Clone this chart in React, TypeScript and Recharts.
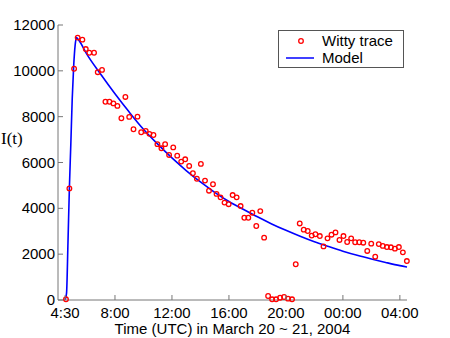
import { ComposedChart, Line, Scatter, XAxis, YAxis } from "recharts"

// hours since 0:00 on March 20 (24+ = March 21)
const wittyHours = [
  4.56, 4.8, 5.13, 5.38, 5.71, 5.95, 6.2, 6.53, 6.79, 7.09, 7.33, 7.61, 7.89, 8.17, 8.45, 8.73,
  9.0, 9.3, 9.58, 9.84, 10.16, 10.42, 10.7, 10.98, 11.26, 11.52, 11.8, 12.09, 12.37, 12.65,
  12.93, 13.21, 13.47, 13.75, 14.03, 14.32, 14.6, 14.88, 15.13, 15.41, 15.69, 15.98, 16.26,
  16.54, 16.82, 17.08, 17.36, 17.64, 17.92, 18.2, 18.47, 18.75, 19.03, 19.31, 19.59, 19.87,
  20.15, 20.43, 20.69, 20.97, 21.25, 21.53, 21.81, 22.07, 22.38, 22.64, 22.92, 23.2, 23.48,
  23.76, 24.04, 24.3, 24.58, 24.86, 25.15, 25.43, 25.71, 25.99, 26.27, 26.52, 26.8, 27.09,
  27.37, 27.65, 27.93, 28.21, 28.49,
]
const wittyValues = [
  30, 4870, 10090, 11450, 11360, 10950, 10790, 10790, 9940, 10040, 8650, 8650, 8580, 8470, 7930,
  8860, 7990, 7450, 8000, 7320, 7380, 7250, 7200, 6800, 6620, 6800, 6330, 6660, 6300, 6040,
  6140, 5850, 5530, 5290, 5940, 5210, 4770, 5050, 4630, 4480, 4250, 4180, 4580, 4480, 4100,
  3590, 3590, 3810, 3230, 3880, 2720, 175, 30, 30, 100, 130, 60, 30, 1560, 3340, 3070, 3010,
  2810, 2870, 2790, 2340, 2690, 2850, 2950, 2620, 2790, 2530, 2690, 2520, 2520, 2500, 2140,
  2460, 1890, 2440, 2360, 2310, 2300, 2240, 2310, 2080, 1700,
]

const modelHours = [
  4.5, 4.6, 4.7, 4.8, 4.9, 5.0, 5.1, 5.2, 5.3, 5.5, 6, 7, 8, 9, 10, 11, 12, 13, 14, 15, 16, 17,
  18, 19, 20, 21, 22, 23, 24, 25, 26, 27, 28, 28.5,
]
const modelValues = [
  0, 300, 2500, 4900, 6800, 8800, 10200, 11100, 11450, 11300, 10750, 9850, 9000, 8200, 7450,
  6800, 6200, 5650, 5150, 4700, 4300, 3960, 3630, 3320, 3040, 2780, 2540, 2330, 2130, 1950,
  1790, 1640, 1500, 1440,
]

const xTicks = [4.5, 8, 12, 16, 20, 24, 28]
const xTickLabels = ["4:30", "8:00", "12:00", "16:00", "20:00", "00:00", "04:00"]
const yTicks = [0, 2000, 4000, 6000, 8000, 10000, 12000]

const wittyData = wittyHours.map((h, i) => ({ h, v: wittyValues[i] }))
const modelData = modelHours.map((h, i) => ({ h, v: modelValues[i] }))

const FONT = "Arial, 'Liberation Sans', sans-serif"
const AXIS = "#777777"

const BottomTick = (props: any) => {
  const { x, y, payload } = props
  const idx = xTicks.indexOf(payload.value)
  return (
    <g>
      <line x1={x} x2={x} y1={y - 4} y2={y - 9} stroke={AXIS} />
      <text x={x} y={y + 14} textAnchor="middle" fontSize={15} fontFamily={FONT} fill="#000">
        {xTickLabels[idx]}
      </text>
    </g>
  )
}

const LeftTick = (props: any) => {
  const { x, y, payload } = props
  return (
    <g>
      <line x1={x + 3} x2={x + 8} y1={y} y2={y} stroke={AXIS} />
      <text x={x} y={y + 5} textAnchor="end" fontSize={15} fontFamily={FONT} fill="#000">
        {payload.value}
      </text>
    </g>
  )
}

const TopTick = (props: any) => {
  const { x, y } = props
  return <line x1={x} x2={x} y1={y} y2={y + 5} stroke={AXIS} />
}

const RightTick = (props: any) => {
  const { x, y } = props
  return <line x1={x} x2={x - 5} y1={y} y2={y} stroke={AXIS} />
}

const LegendBox = () => (
  <div
    style={{
      position: "absolute",
      left: 278,
      top: 30,
      width: 124,
      height: 36,
      border: "1px solid #555",
      background: "#fff",
      fontFamily: FONT,
      fontSize: 15,
      color: "#000",
    }}
  >
    <svg width={40} height={36} style={{ position: "absolute", left: 0, top: 0 }}>
      <circle cx={22} cy={10} r={2.3} fill="none" stroke="#ff0000" strokeWidth={1.3} />
      <line x1={7} x2={35} y1={27} y2={27} stroke="#0000ff" strokeWidth={1.5} />
    </svg>
    <div style={{ position: "absolute", left: 43, top: 1, lineHeight: "17px" }}>Witty trace</div>
    <div style={{ position: "absolute", left: 43, top: 18, lineHeight: "17px" }}>Model</div>
  </div>
)

export default function App() {
  return (
    <div style={{ position: "relative", width: 450, height: 338, background: "#fff" }}>
      <style>{`body{margin:0}`}</style>
      <div
        style={{
          position: "absolute",
          left: 1,
          top: 129,
          fontFamily: "'Liberation Serif', 'Times New Roman', serif",
          fontSize: 17,
        }}
      >
        I(t)
      </div>
      <ComposedChart
        width={450}
        height={338}
        margin={{ top: 25, right: 43, left: 0, bottom: 0 }}
      >
        <XAxis
          dataKey="h"
          type="number"
          domain={[4, 28.5]}
          ticks={xTicks}
          interval={0}
          tickSize={0}
          tickMargin={4}
          tickLine={false}
          axisLine={{ stroke: AXIS }}
          tick={<BottomTick />}
          height={38}
          label={{
            value: "Time (UTC) in March 20 ~ 21, 2004",
            position: "insideBottom",
            offset: 4,
            style: { fontSize: 15, fontFamily: FONT, fill: "#000" },
          }}
        />
        <XAxis
          xAxisId="top"
          orientation="top"
          dataKey="h"
          type="number"
          domain={[4, 28.5]}
          ticks={xTicks}
          interval={0}
          tickSize={0}
          tickMargin={0}
          tickLine={false}
          axisLine={{ stroke: AXIS }}
          tick={<TopTick />}
          height={0}
        />
        <YAxis
          dataKey="v"
          type="number"
          domain={[0, 12000]}
          ticks={yTicks}
          interval={0}
          tickSize={0}
          tickMargin={3}
          tickLine={false}
          axisLine={{ stroke: AXIS }}
          tick={<LeftTick />}
          width={58}
        />
        <YAxis
          yAxisId="right"
          orientation="right"
          type="number"
          domain={[0, 12000]}
          ticks={yTicks}
          interval={0}
          tickSize={0}
          tickMargin={0}
          tickLine={false}
          axisLine={{ stroke: AXIS }}
          tick={<RightTick />}
          width={0}
        />
        <Line
          data={modelData}
          dataKey="v"
          type="monotone"
          stroke="#0000ff"
          strokeWidth={1.6}
          dot={false}
          isAnimationActive={false}
          name="Model"
        />
        <Scatter
          data={wittyData}
          dataKey="v"
          fill="none"
          stroke="#ff0000"
          strokeWidth={1.3}
          shape={(p: any) => (
            <circle cx={p.cx} cy={p.cy} r={2.3} fill="none" stroke="#ff0000" strokeWidth={1.3} />
          )}
          isAnimationActive={false}
          name="Witty trace"
        />
      </ComposedChart>
      <LegendBox />
    </div>
  )
}
